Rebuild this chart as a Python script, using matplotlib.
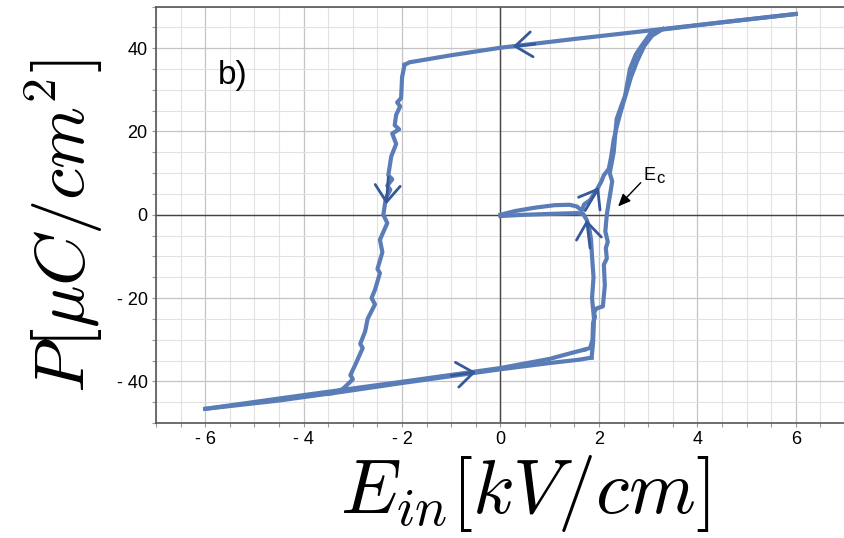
import numpy as np
import matplotlib
matplotlib.use("Agg")
import matplotlib.pyplot as plt
from matplotlib.ticker import MultipleLocator, FixedLocator

# virgin curve from the origin up to saturation
virgin_E = [0.0, 0.3, 0.7, 1.1, 1.4, 1.55, 1.65, 1.7, 1.82, 1.9, 1.98, 2.05, 2.1, 2.2,
            2.25, 2.3, 2.38, 2.45, 2.55, 2.65, 2.78, 2.92, 3.08, 3.3]
virgin_P = [0.0, 0.9, 1.7, 2.3, 2.4, 2.0, 1.0, 2.5, 3.5, 5.0, 6.5, 8.0, 9.5, 11.0,
            14.0, 18.0, 22.0, 25.0, 29.0, 33.0, 37.0, 40.5, 43.0, 44.6]

# upper branch, field going down
top_E = [6.0, 4.5, 3.0, 1.5, 0.0, -1.0, -1.85, -1.95]
top_P = [48.2, 46.2, 44.2, 42.2, 40.1, 38.3, 36.6, 36.0]

# left switching branch
down_E = [-1.95, -2.0, -2.02, -2.1, -2.04, -2.12, -2.15, -2.06, -2.2, -2.12, -2.22, -2.28, -2.2,
          -2.3, -2.24, -2.33, -2.38, -2.3, -2.45, -2.4, -2.5, -2.45, -2.55, -2.62, -2.55,
          -2.7, -2.75, -2.85, -2.8, -2.95, -3.05, -3.0, -3.2, -3.4, -4.5, -6.0]
down_P = [36.0, 33.0, 28.0, 27.0, 26.0, 24.0, 21.5, 20.5, 19.5, 17.0, 14.0, 9.5, 8.5,
          7.0, 6.0, 4.0, 0.0, -2.0, -6.0, -9.0, -13.0, -14.0, -18.0, -20.0, -21.5,
          -25.0, -28.0, -31.0, -32.0, -36.0, -38.5, -39.5, -41.8, -42.8, -44.6, -46.6]

# lower branch, field going up (two passes)
bottom_a_E = [-6.0, -4.0, -2.0, 0.0, 1.0, 1.5, 1.7]
bottom_a_P = [-46.6, -43.3, -40.1, -36.8, -34.6, -33.0, -32.4]
bottom_b_E = [-3.5, -2.0, 0.0, 1.0, 1.6, 1.85]
bottom_b_P = [-43.0, -40.4, -37.1, -35.6, -34.8, -34.3]

# right switching branch
rise_E = [1.7, 1.82, 1.87, 1.88, 1.92, 1.9, 1.95, 2.08, 2.12, 2.1, 2.16, 2.14, 2.18, 2.13,
          2.16, 2.2, 2.27, 2.22, 2.3, 2.36, 2.45, 2.53, 2.63, 2.75, 2.87, 3.04, 3.17, 4.5, 6.0]
rise_P = [-32.4, -32.0, -30.0, -26.0, -24.5, -23.5, -22.5, -22.0, -17.0, -12.0, -10.5, -8.0, -6.5, -4.0,
          0.0, 3.0, 8.0, 10.0, 15.0, 23.0, 26.0, 28.5, 35.0, 38.5, 40.6, 43.4, 44.3, 46.2, 48.2]

# last pass back to the origin
final_E = [1.85, 1.88, 1.9, 1.86, 1.89, 1.86, 1.84, 1.8, 1.75, 1.68, 1.55, 1.0, 0.5, 0.0]
final_P = [-34.3, -31.0, -25.0, -20.0, -15.0, -10.0, -6.0, -3.0, -1.2, 0.2, 0.4, 0.2, 0.0, -0.3]

# direction arrows drawn on the loop (tip, tail)
arrow_tips = [(0.25, 40.4), (-2.32, 2.5), (-0.5, -37.8), (2.0, 6.6), (1.75, -1.2)]
arrow_tails = [(0.7, 41.0), (-2.28, 9.0), (-1.0, -38.6), (1.72, 1.0), (1.82, -8.0)]

x_ticks = [-6, -4, -2, 0, 2, 4, 6]
y_ticks = [-40, -20, 0, 20, 40]

line_col = '#5a7cb7'
arrow_col = '#35599a'

fig = plt.figure(figsize=(8.45, 5.38), dpi=100)
ax = fig.add_axes([156 / 845, 1 - 423 / 538, 689 / 845, 416.5 / 538])

ax.set_xlim(-7, 7)
ax.set_ylim(-50, 50)

ax.xaxis.set_major_locator(FixedLocator(x_ticks))
ax.yaxis.set_major_locator(FixedLocator(y_ticks))
ax.xaxis.set_minor_locator(MultipleLocator(0.5))
ax.yaxis.set_minor_locator(MultipleLocator(5))
ax.set_xticklabels([('- %d' % -v) if v < 0 else str(v) for v in x_ticks],
                   family='Liberation Sans', fontsize=13)
ax.set_yticklabels([('- %d' % -v) if v < 0 else str(v) for v in y_ticks],
                   family='Liberation Sans', fontsize=13)

ax.grid(which='major', color='#c4c4c4', lw=0.9)
ax.grid(which='minor', color='#e2e2e2', lw=0.8)
ax.set_axisbelow(True)
ax.tick_params(which='both', length=3, width=0.8, color='#999999', pad=3)
for s in ax.spines.values():
    s.set_color('#555555')
    s.set_linewidth(1.2)
ax.spines['right'].set_visible(False)

ax.axhline(0, color='#444444', lw=1.0, zorder=1)
ax.axvline(0, color='#444444', lw=1.0, zorder=1)

branches = [(virgin_E, virgin_P), (top_E, top_P), (down_E, down_P),
            (bottom_a_E, bottom_a_P), (bottom_b_E, bottom_b_P),
            (rise_E, rise_P), (final_E, final_P)]
for e, p in branches:
    ax.plot(e, p, color=line_col, lw=3, solid_joinstyle='round', zorder=3)

for tip, tail in zip(arrow_tips, arrow_tails):
    ax.annotate('', xy=tip, xytext=tail,
                arrowprops=dict(arrowstyle='->,head_length=0.6,head_width=0.45',
                                color=arrow_col, lw=2, mutation_scale=20,
                                shrinkA=0, shrinkB=0), zorder=4)

# coercive field label
ax.text(2.9, 8.4, 'E', family='Liberation Sans', fontsize=13,
        ha='left', va='baseline', zorder=5)
ax.text(3.17, 7.6, 'c', family='Liberation Sans', fontsize=12,
        ha='left', va='baseline', zorder=5)
ax.annotate('', xy=(2.39, 2.0), xytext=(2.85, 7.7),
            arrowprops=dict(arrowstyle='-|>,head_length=0.5,head_width=0.22',
                            color='black', lw=1, mutation_scale=15,
                            shrinkA=0, shrinkB=0), zorder=5)

ax.text(-5.74, 31.3, 'b)', family='Liberation Sans', fontsize=24, ha='left', va='baseline')

fig.text(64 / 845, 1 - 226 / 538, r'$P[\mu C/cm^2]$', math_fontfamily='cm',
         fontsize=51, rotation=90, ha='center', va='center')
fig.text(525 / 845, 1 - 494 / 538, r'$E_{in}[kV/cm]$', math_fontfamily='cm',
         fontsize=55, ha='center', va='center')

fig.savefig('out.png', dpi=100)
